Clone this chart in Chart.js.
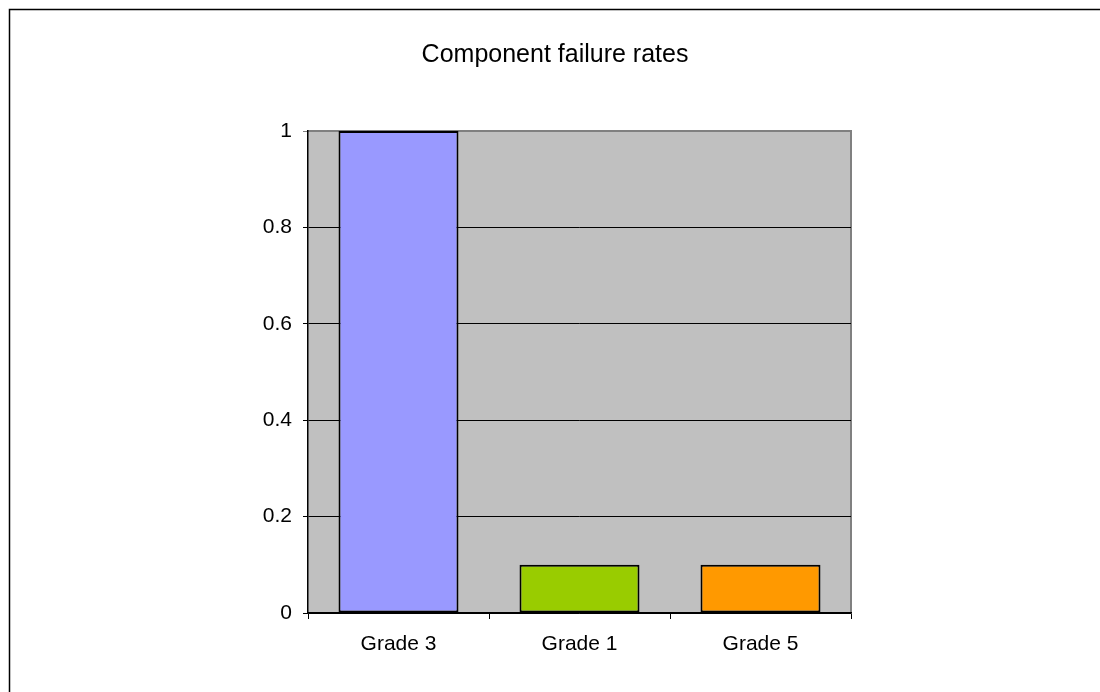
<!DOCTYPE html>
<html>
<head>
<meta charset="utf-8">
<script src="https://cdn.jsdelivr.net/npm/chart.js@4.4.1/dist/chart.umd.min.js"></script>
<style>
  html, body { margin: 0; padding: 0; background: #fff; }
  #wrap { width: 1100px; height: 692px; }
</style>
</head>
<body>
<div id="wrap"><canvas id="chart" width="1100" height="692"></canvas></div>
<script>
const grades = ['Grade 3', 'Grade 1', 'Grade 5']
const failureRates = [1, 0.1, 0.1]
const barColors = ['#9999FF', '#99CC00', '#FF9900']
const yTicks = [0, 0.2, 0.4, 0.6, 0.8, 1]
const chartTitle = 'Component failure rates'

const FONT = '"Liberation Sans", Arial, sans-serif'

// grey plot background, grey top/right edge, outer frame lines and the title
const backdrop = {
  id: 'backdrop',
  beforeDraw(chart) {
    const {ctx, chartArea: a} = chart
    ctx.save()
    ctx.strokeStyle = '#000'
    ctx.lineWidth = 1.5
    ctx.beginPath()
    ctx.moveTo(9.5, 692)
    ctx.lineTo(9.5, 9.5)
    ctx.lineTo(1100, 9.5)
    ctx.stroke()

    ctx.fillStyle = '#000'
    ctx.font = '25px ' + FONT
    ctx.textAlign = 'center'
    ctx.textBaseline = 'middle'
    ctx.fillText(chartTitle, 555, 55)

    ctx.fillStyle = '#C0C0C0'
    ctx.fillRect(a.left, a.top, a.right - a.left, a.bottom - a.top)
    ctx.strokeStyle = '#808080'
    ctx.lineWidth = 2
    ctx.beginPath()
    ctx.moveTo(a.left, a.top)
    ctx.lineTo(a.right, a.top)
    ctx.lineTo(a.right, a.bottom)
    ctx.stroke()
    ctx.restore()
  }
}

new Chart(document.getElementById('chart'), {
  type: 'bar',
  data: {
    labels: grades,
    datasets: [{
      data: failureRates,
      backgroundColor: barColors,
      borderColor: '#000',
      borderWidth: 2,
      borderSkipped: false,
      categoryPercentage: 1,
      barPercentage: 0.663
    }]
  },
  options: {
    responsive: false,
    animation: false,
    layout: {padding: {left: 0, right: 249, top: 131, bottom: 0}},
    plugins: {
      legend: {display: false},
      tooltip: {enabled: false},
      title: {display: false}
    },
    scales: {
      x: {
        afterFit(scale) { scale.height = 79 },
        grid: {
          offset: true,
          drawOnChartArea: false,
          drawTicks: true,
          tickLength: 6,
          color: '#000'
        },
        border: {color: '#000', width: 1.5},
        ticks: {
          color: '#000',
          font: {family: FONT, size: 21},
          padding: 13
        }
      },
      y: {
        min: 0,
        max: 1,
        afterFit(scale) { scale.width = 308 },
        afterBuildTicks(scale) { scale.ticks = yTicks.map(v => ({value: v})) },
        grid: {
          color: ctx => (ctx.tick && ctx.tick.value === 1) ? '#808080' : '#000',
          lineWidth: 1,
          tickLength: 5
        },
        border: {color: '#000', width: 1.5},
        ticks: {
          color: '#000',
          font: {family: FONT, size: 21},
          padding: 11,
          callback: v => String(v)
        }
      }
    }
  },
  plugins: [backdrop]
})
</script>
</body>
</html>
